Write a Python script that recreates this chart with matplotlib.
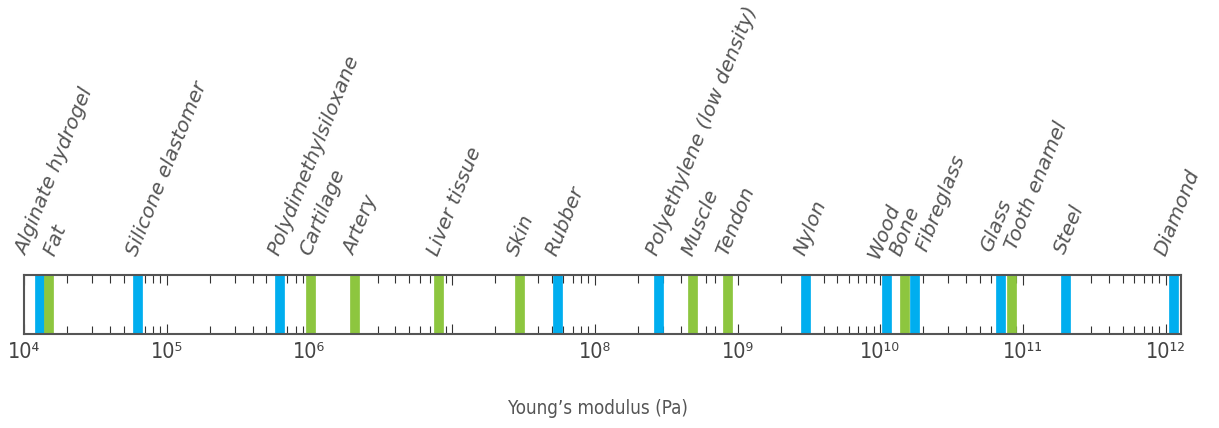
import math
import matplotlib
matplotlib.use("Agg")
import matplotlib.pyplot as plt
from matplotlib.ticker import FixedLocator, LogLocator, FuncFormatter, NullFormatter

# Young's modulus of common materials (Pa)
materials = ["Alginate hydrogel", "Fat", "Silicone elastomer", "Polydimethylsiloxane",
             "Cartilage", "Artery", "Liver tissue", "Skin", "Rubber",
             "Polyethylene (low density)", "Muscle", "Tendon", "Nylon", "Wood",
             "Bone", "Fibreglass", "Glass", "Tooth enamel", "Steel", "Diamond"]
moduli = [1.3e4, 1.5e4, 6.3e4, 6.2e5,
          1.03e6, 2.1e6, 8.1e6, 3.0e7, 5.5e7,
          2.8e8, 4.9e8, 8.6e8, 3.0e9, 1.11e10,
          1.5e10, 1.74e10, 7.0e10, 8.4e10, 2.0e11, 1.15e12]
biological = [False, True, False, False,
              True, True, True, True, False,
              False, True, True, False, False,
              True, False, False, True, False, False]
decades = [4, 5, 6, 7, 8, 9, 10, 11, 12]
unlabelled_decades = [7]

BLUE = "#00aeef"
GREEN = "#8dc63f"
GREY = "#555555"
SUP = str.maketrans("0123456789", "\u2070\u00b9\u00b2\u00b3\u2074\u2075\u2076\u2077\u2078\u2079")

# small horizontal nudges (points) so crowded labels do not collide
nudge = {"Alginate hydrogel": -10, "Fat": 3.5, "Skin": -2, "Wood": -6, "Bone": -3.5,
         "Fibreglass": 9, "Glass": -7, "Tooth enamel": 2.5, "Diamond": -6.5}
lift = {"Wood": -2, "Fibreglass": 3, "Glass": 2.5, "Tooth enamel": 4, "Steel": 1.5}


def decade_label(v, pos):
    d = round(math.log10(v))
    if d in unlabelled_decades:
        return ""
    return "10" + str(d).translate(SUP)


fig = plt.figure(figsize=(12.19, 4.28), dpi=100)
ax = fig.add_axes([24 / 1219, 1 - 334 / 428, (1181 - 24) / 1219, 59 / 428])

ax.set_xscale("log")
ax.set_xlim(1e4, 10 ** 12.107)
ax.set_ylim(0, 1)

for m, e, bio in zip(materials, moduli, biological):
    ax.vlines(e, 0, 1, color=GREEN if bio else BLUE, linewidth=7, zorder=3)
    ax.annotate(m, xy=(e, 1), xytext=(nudge.get(m, -0.7), 13 + lift.get(m, 0)),
                textcoords="offset points", rotation=68, rotation_mode="anchor",
                ha="left", va="baseline", fontsize=14.5, fontstyle="italic",
                color=GREY, family="DejaVu Sans")

for s in ax.spines.values():
    s.set_color(GREY)
    s.set_linewidth(1.5)
    s.set_zorder(4)

ax.set_yticks([])
ax.xaxis.set_major_locator(FixedLocator([10.0 ** d for d in decades]))
ax.xaxis.set_minor_locator(LogLocator(base=10, subs=range(2, 10), numticks=20))
ax.xaxis.set_minor_formatter(NullFormatter())
ax.xaxis.set_major_formatter(FuncFormatter(decade_label))
ax.tick_params(axis="x", which="both", direction="in", top=True, bottom=True,
               color="#333333", width=0.8)
ax.tick_params(axis="x", which="major", length=7.5, pad=6, labelsize=15.5,
               labelcolor="#444444")
ax.tick_params(axis="x", which="minor", length=6)
for t in ax.get_xticklabels():
    t.set_fontstretch("condensed")

ax.set_xlabel("Young\u2019s modulus (Pa)", fontsize=13.5, color=GREY,
              fontstretch="condensed")
ax.xaxis.set_label_coords((597.5 - 24) / 1157, -1.1)

fig.savefig("out.png", dpi=100)
